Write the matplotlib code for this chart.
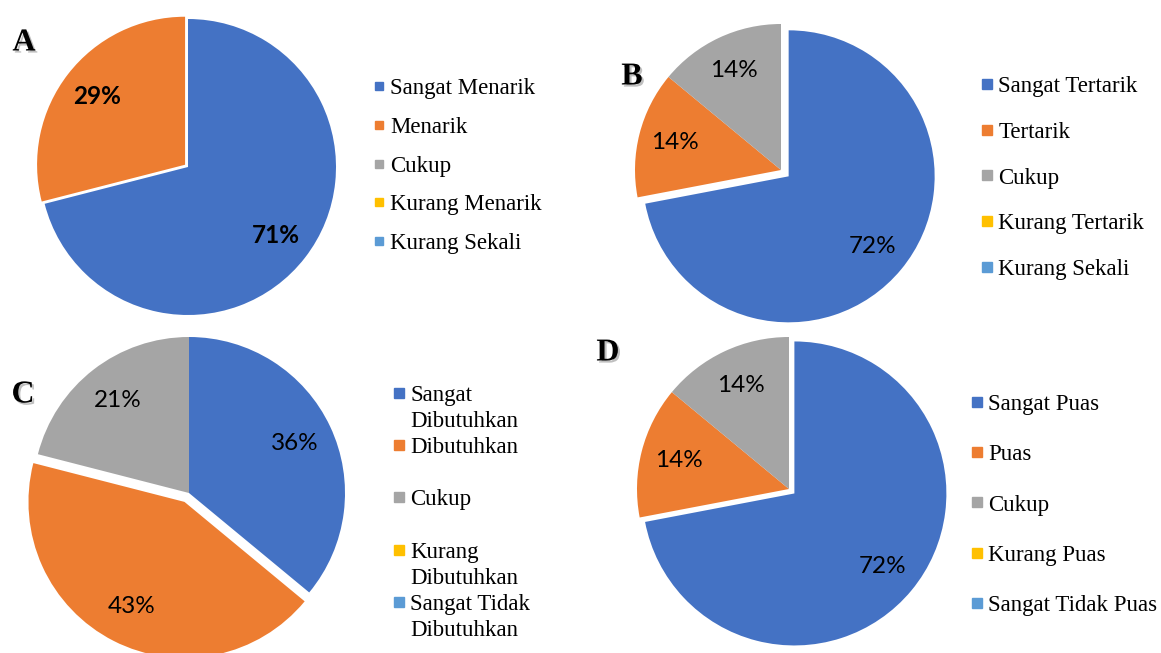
import matplotlib
matplotlib.use("Agg")
import matplotlib.pyplot as plt
import matplotlib.patheffects as pe
from matplotlib.lines import Line2D

W, H = 1161, 653

colors = ["#4472C4", "#ED7D31", "#A5A5A5", "#FFC000", "#5B9BD5"]

a_labels = ["Sangat Menarik", "Menarik", "Cukup", "Kurang Menarik", "Kurang Sekali"]
a_values = [71, 29, 0, 0, 0]

b_labels = ["Sangat Tertarik", "Tertarik", "Cukup", "Kurang Tertarik", "Kurang Sekali"]
b_values = [72, 14, 14, 0, 0]

c_labels = ["Sangat\nDibutuhkan", "Dibutuhkan", "Cukup", "Kurang\nDibutuhkan",
            "Sangat Tidak\nDibutuhkan"]
c_values = [36, 43, 21, 0, 0]

d_labels = ["Sangat Puas", "Puas", "Cukup", "Kurang Puas", "Sangat Tidak Puas"]
d_values = [72, 14, 14, 0, 0]

LEG_FS = 16.5
PCT_FS = 17.5
fs_px = LEG_FS * 100 / 72.0
HL = 0.6

fig = plt.figure(figsize=(W / 100, H / 100), dpi=100)


def pie_axes(cx, cy, r, pad=1.3):
    return fig.add_axes([(cx - pad * r) / W, 1 - (cy + pad * r) / H,
                         2 * pad * r / W, 2 * pad * r / H])


def pct(p):
    return f"{p:.0f}%" if p > 0 else ""


def draw_pie(cx, cy, r, values, explode, bold=False):
    ax = pie_axes(cx, cy, r)
    wedges, _, autotexts = ax.pie(values, colors=colors, explode=explode,
                                  startangle=90, counterclock=False,
                                  autopct=pct, pctdistance=0.75,
                                  wedgeprops=dict(linewidth=0),
                                  textprops=dict(family="Lato", fontsize=PCT_FS,
                                                 color="black",
                                                 fontweight="bold" if bold else "normal"))
    for w in wedges:
        w.set_clip_on(False)
    ax.set_xlim(-1.3, 1.3)
    ax.set_ylim(-1.3, 1.3)
    ax.set_aspect("equal")
    ax.axis("off")
    return ax


def add_legend(ax, handles, labels, mx, cy, spacing):
    ax.legend(handles, labels, loc="center left",
              bbox_to_anchor=((mx - HL * fs_px / 2) / W, 1 - cy / H),
              bbox_transform=fig.transFigure, frameon=False, borderpad=0,
              borderaxespad=0, handlelength=HL, handletextpad=0.2,
              labelspacing=spacing,
              prop=dict(family="Liberation Serif", size=LEG_FS))


def square(c, msize):
    return Line2D([], [], marker="s", color=c, linestyle="none", markersize=msize)


def panel_letter(x, y, s):
    t = fig.text(x / W, 1 - y / H, s, family="Liberation Serif", fontweight="bold",
                 fontsize=23, ha="center", va="center")
    t.set_path_effects([pe.SimplePatchShadow(offset=(1.5, -1.5), shadow_rgbFace="gray",
                                             alpha=0.5), pe.Normal()])


# A
ax = draw_pie(188, 167, 148, a_values, [0, 0.025, 0, 0, 0], bold=True)
add_legend(ax, [square(c, 5.5) for c in colors], a_labels, 379, 166, 0.78)

# B
ax = draw_pie(781, 170, 146, b_values, [0.068, 0, 0, 0, 0])
add_legend(ax, [square(c, 7.5) for c in colors], b_labels, 987, 178, 1.07)

# C : wrapped labels, one legend row per text line
ax = draw_pie(189, 493, 156, c_values, [0, 0.064, 0, 0, 0])
c_handles, c_rows = [], []
for c, lab in zip(colors, c_labels):
    lines = lab.split("\n") + [" "]
    c_handles += [square(c, 7.5), square("none", 7.5)]
    c_rows += lines[:2]
add_legend(ax, c_handles, c_rows, 399, 513, 0.22)

# D
ax = draw_pie(789, 489, 152, d_values, [0.046, 0, 0, 0, 0])
add_legend(ax, [square(c, 7.5) for c in colors], d_labels, 977, 505, 1.27)

panel_letter(24, 43, "A")
panel_letter(632, 77, "B")
panel_letter(23, 395, "C")
panel_letter(608, 353, "D")

fig.savefig("out.png", dpi=100)
